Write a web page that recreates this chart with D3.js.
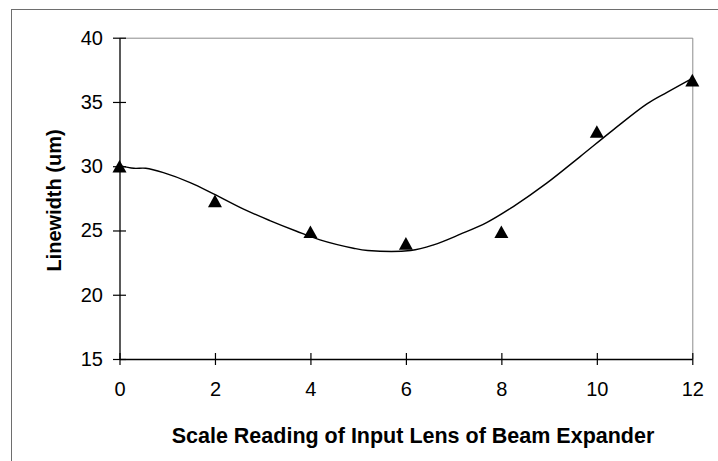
<!DOCTYPE html>
<html>
<head>
<meta charset="utf-8">
<script src="https://cdn.jsdelivr.net/npm/d3@7"></script>
<style>
  html, body { margin: 0; padding: 0; background: #fff; }
  svg { display: block; font-family: "Liberation Sans", Arial, sans-serif; }
</style>
</head>
<body>
<svg id="chart" width="718" height="461"></svg>
<script>
// Measured linewidth at each scale reading of the input lens
const scaleReading = [0, 2, 4, 6, 8, 10, 12];
const linewidth = [30.0, 27.3, 24.9, 24.0, 24.9, 32.7, 36.7];

// Fitted trend curve through the measurements
const trendX = [0, 0.3, 0.55, 0.92, 1.48, 1.97, 2.6, 3.15, 3.71, 4.2, 4.9, 5.2, 6.1, 6.58, 7.14, 7.69, 8.25, 8.95, 9.65, 10.35, 11.05, 11.47, 12];
const trendY = [30.05, 29.84, 29.84, 29.5, 28.73, 27.85, 26.66, 25.77, 24.94, 24.27, 23.62, 23.44, 23.44, 23.88, 24.71, 25.61, 26.86, 28.68, 30.75, 32.85, 34.85, 35.75, 36.84];

// Axis ticks and titles
const xTicks = [0, 2, 4, 6, 8, 10, 12];
const yTicks = [15, 20, 25, 30, 35, 40];
const xTitle = "Scale Reading of Input Lens of Beam Expander";
const yTitle = "Linewidth (um)";

const svg = d3.select("#chart");

const plot = { left: 119.5, right: 692.3, top: 37.7, bottom: 359 };

const x = d3.scaleLinear().domain([0, 12]).range([plot.left, plot.right]);
const y = d3.scaleLinear().domain([15, 40]).range([plot.bottom, plot.top]);

// Chart frame
svg.append("rect")
  .attr("x", 11.5).attr("y", 9.5)
  .attr("width", 760).attr("height", 500)
  .attr("fill", "#fff")
  .attr("stroke", "#6e6e6e").attr("stroke-width", 1);

// Plot area border (top and right; left and bottom come from the axes)
svg.append("path")
  .attr("d", `M${plot.left},${plot.top + 0.5}H${plot.right + 0.5}V${plot.bottom}`)
  .attr("fill", "none")
  .attr("stroke", "#8c8c8c").attr("stroke-width", 1);

const fontTick = 20;

// Y axis
const yAxis = svg.append("g")
  .attr("transform", `translate(${plot.left},0)`)
  .call(d3.axisLeft(y).tickValues(yTicks).tickFormat(d3.format("d"))
    .tickSizeInner(6.5).tickSizeOuter(0).tickPadding(10));
yAxis.select(".domain").attr("stroke", "#000").attr("stroke-width", 1.3);
yAxis.selectAll(".tick line").attr("x1", 6.5).attr("stroke", "#000").attr("stroke-width", 1.2);
yAxis.selectAll(".tick text")
  .attr("font-size", fontTick).attr("font-family", "Liberation Sans, Arial, sans-serif").attr("fill", "#000");

// X axis
const xAxis = svg.append("g")
  .attr("transform", `translate(0,${plot.bottom})`)
  .call(d3.axisBottom(x).tickValues(xTicks).tickFormat(d3.format("d"))
    .tickSizeInner(6).tickSizeOuter(0).tickPadding(17));
xAxis.select(".domain").attr("stroke", "#000").attr("stroke-width", 1.3);
xAxis.selectAll(".tick line").attr("y1", -6).attr("stroke", "#000").attr("stroke-width", 1.2);
xAxis.selectAll(".tick text")
  .attr("font-size", fontTick).attr("font-family", "Liberation Sans, Arial, sans-serif").attr("fill", "#000");

// Axis titles
svg.append("text")
  .attr("x", 413).attr("y", 443)
  .attr("text-anchor", "middle")
  .attr("font-size", 21.5).attr("font-weight", "bold")
  .text(xTitle);

svg.append("text")
  .attr("transform", "translate(61,200.5) rotate(-90)")
  .attr("text-anchor", "middle")
  .attr("font-size", 20).attr("font-weight", "bold")
  .text(yTitle);

// Trend curve
const trend = trendX.map((d, i) => [d, trendY[i]]);
svg.append("path")
  .datum(trend)
  .attr("fill", "none")
  .attr("stroke", "#000")
  .attr("stroke-width", 1.4)
  .attr("d", d3.line().x(d => x(d[0])).y(d => y(d[1])).curve(d3.curveCatmullRom.alpha(0.5)));

// Triangle markers, centred on their bounding box
const triangleMark = {
  draw(context, size) {
    const w = Math.sqrt(size);
    const h = w * 0.9;
    context.moveTo(0, -h / 2);
    context.lineTo(w / 2, h / 2);
    context.lineTo(-w / 2, h / 2);
    context.closePath();
  }
};
svg.append("g")
  .selectAll("path")
  .data(scaleReading.map((d, i) => [d, linewidth[i]]))
  .join("path")
  .attr("transform", d => `translate(${x(d[0])},${y(d[1])})`)
  .attr("d", d3.symbol().type(triangleMark).size(14 * 14))
  .attr("fill", "#000");
</script>
</body>
</html>
